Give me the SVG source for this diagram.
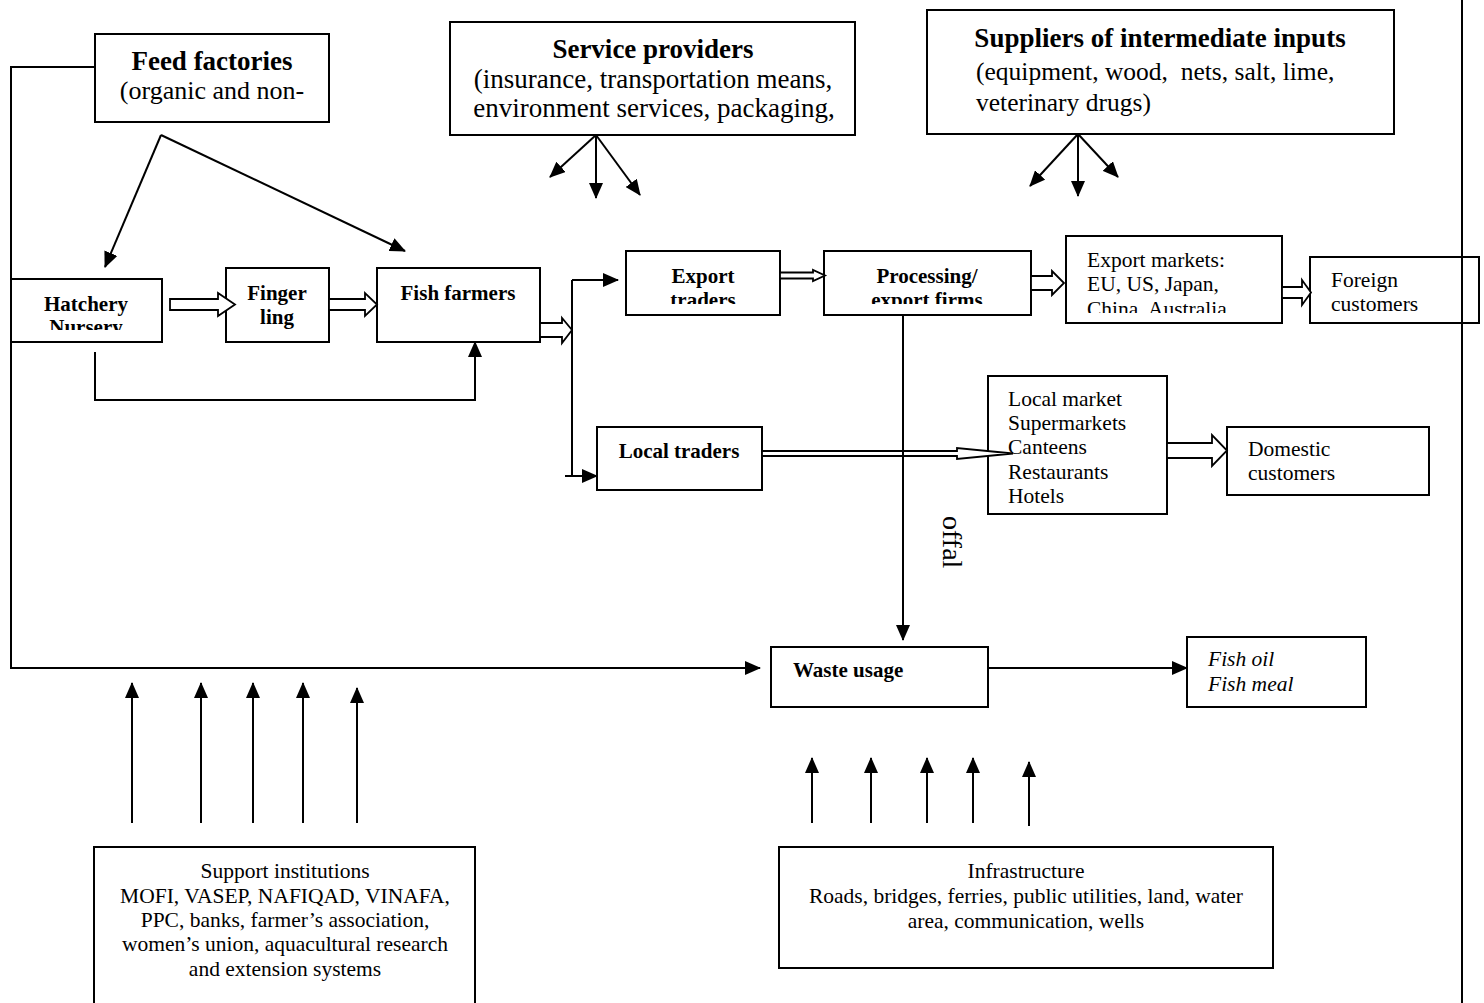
<svg xmlns="http://www.w3.org/2000/svg" width="1484" height="1003" viewBox="0 0 1484 1003">
<style>
.box{fill:#fff;stroke:#000;stroke-width:2}
.ln{fill:none;stroke:#000;stroke-width:2}
.hol{fill:#fff;stroke:#000;stroke-width:1.8;stroke-linejoin:miter}
text{font-family:"Liberation Serif","Times New Roman",serif;fill:#000}
.s21{font-size:21.5px}
.sb{font-size:21px}
.s26{font-size:27px}
.s25{font-size:25.5px}
.b{font-weight:bold}
.i{font-style:italic}
.m{text-anchor:middle}
</style>
<defs>
<marker id="ah" markerUnits="userSpaceOnUse" markerWidth="16" markerHeight="14" refX="15" refY="7" orient="auto">
<path d="M0,0 L16,7 L0,14 Z" fill="#000"/>
</marker>
<clipPath id="cHat"><rect x="11" y="279" width="151" height="51"/></clipPath>
<clipPath id="cExp"><rect x="626" y="251" width="154" height="53"/></clipPath>
<clipPath id="cProc"><rect x="824" y="251" width="207" height="53"/></clipPath>
<clipPath id="cMkt"><rect x="1066" y="236" width="216" height="77"/></clipPath>
</defs>
<rect width="1484" height="1003" fill="#fff"/>

<g id="feed-factories">
<rect class="box" x="95" y="34" width="234" height="88"/>
<text class="s26 b m" x="212" y="70">Feed factories</text>
<text class="s26 m" x="212" y="99" style="font-size:26px">(organic and non-</text>
</g>
<g id="service-providers">
<rect class="box" x="450" y="22" width="405" height="113"/>
<text class="s26 b m" x="653" y="58">Service providers</text>
<text class="s26 m" x="653" y="88">(insurance, transportation means,</text>
<text class="s26 m" x="654" y="117">environment services, packaging,</text>
</g>
<g id="suppliers">
<rect class="box" x="927" y="10" width="467" height="124"/>
<text class="s26 b m" x="1160" y="47">Suppliers of intermediate inputs</text>
<text class="s25" x="976" y="80" xml:space="preserve">(equipment, wood,  nets, salt, lime,</text>
<text class="s25" x="976" y="111">veterinary drugs)</text>
</g>
<g id="hatchery">
<rect class="box" x="11" y="279" width="151" height="63"/>
<g clip-path="url(#cHat)">
<text class="sb b m" x="86" y="311">Hatchery</text>
<text class="sb b m" x="86" y="334">Nursery</text>
</g>
</g>
<g id="fingerling">
<rect class="box" x="226" y="268" width="103" height="74"/>
<text class="sb b m" x="277" y="300">Finger</text>
<text class="sb b m" x="277" y="324">ling</text>
</g>
<g id="fish-farmers">
<rect class="box" x="377" y="268" width="163" height="74"/>
<text class="sb b m" x="458" y="300">Fish farmers</text>
</g>
<g id="export-traders">
<rect class="box" x="626" y="251" width="154" height="64"/>
<g clip-path="url(#cExp)">
<text class="sb b m" x="703" y="283">Export</text>
<text class="sb b m" x="703" y="307">traders</text>
</g>
</g>
<g id="processing">
<rect class="box" x="824" y="251" width="207" height="64"/>
<g clip-path="url(#cProc)">
<text class="sb b m" x="927" y="283">Processing/</text>
<text class="sb b m" x="927" y="307">export firms</text>
</g>
</g>
<g id="export-markets">
<rect class="box" x="1066" y="236" width="216" height="87"/>
<g clip-path="url(#cMkt)">
<text class="s21" x="1087" y="267">Export markets:</text>
<text class="s21" x="1087" y="291">EU, US, Japan,</text>
<text class="s21" x="1087" y="316">China, Australia</text>
</g>
</g>
<g id="foreign-customers">
<rect class="box" x="1310" y="257" width="169" height="66"/>
<text class="s21" x="1331" y="287">Foreign</text>
<text class="s21" x="1331" y="311">customers</text>
</g>
<g id="local-traders">
<rect class="box" x="597" y="427" width="165" height="63"/>
<text class="sb b m" x="679" y="458">Local traders</text>
</g>
<g id="local-market">
<rect class="box" x="988" y="376" width="179" height="138"/>
<text class="s21" x="1008" y="406">Local market</text>
<text class="s21" x="1008" y="430">Supermarkets</text>
<text class="s21" x="1008" y="454">Canteens</text>
<text class="s21" x="1008" y="479">Restaurants</text>
<text class="s21" x="1008" y="503">Hotels</text>
</g>
<g id="domestic-customers">
<rect class="box" x="1227" y="427" width="202" height="68"/>
<text class="s21" x="1248" y="456">Domestic</text>
<text class="s21" x="1248" y="480">customers</text>
</g>
<g id="waste-usage">
<rect class="box" x="771" y="647" width="217" height="60"/>
<text class="sb b" x="793" y="677">Waste usage</text>
</g>
<g id="fish-oil-meal">
<rect class="box" x="1187" y="637" width="179" height="70"/>
<text class="s21 i" x="1208" y="666">Fish oil</text>
<text class="s21 i" x="1208" y="691">Fish meal</text>
</g>
<g id="support-institutions">
<rect class="box" x="94" y="847" width="381" height="170"/>
<text class="s21 m" x="285" y="878">Support institutions</text>
<text class="s21 m" x="285" y="903">MOFI, VASEP, NAFIQAD, VINAFA,</text>
<text class="s21 m" x="285" y="927">PPC, banks, farmer’s association,</text>
<text class="s21 m" x="285" y="951">women’s union, aquacultural research</text>
<text class="s21 m" x="285" y="976">and extension systems</text>
</g>
<g id="infrastructure">
<rect class="box" x="779" y="847" width="494" height="121"/>
<text class="s21 m" x="1026" y="878">Infrastructure</text>
<text class="s21 m" x="1026" y="903">Roads, bridges, ferries, public utilities, land, water</text>
<text class="s21 m" x="1026" y="928">area, communication, wells</text>
</g>

<g id="connectors">
<path class="ln" d="M95,67 L11,67 L11,668 L760,668" marker-end="url(#ah)"/>
<path class="ln" d="M161,135 L105,267" marker-end="url(#ah)"/>
<path class="ln" d="M161,135 L405,251" marker-end="url(#ah)"/>
<path class="ln" d="M596,135 L550,177" marker-end="url(#ah)"/>
<path class="ln" d="M596,135 L596,198" marker-end="url(#ah)"/>
<path class="ln" d="M596,135 L640,195" marker-end="url(#ah)"/>
<path class="ln" d="M1078,134 L1030,186" marker-end="url(#ah)"/>
<path class="ln" d="M1078,134 L1078,196" marker-end="url(#ah)"/>
<path class="ln" d="M1078,134 L1118,177" marker-end="url(#ah)"/>
<path class="hol" d="M170,299 L218,299 L218,293 L235,304.5 L218,316 L218,310 L170,310 Z"/>
<path class="hol" d="M329,299 L365,299 L365,293 L377,304.5 L365,316 L365,310 L329,310 Z"/>
<path class="hol" d="M540,323 L562,323 L562,318 L572,330 L562,343 L562,337 L540,337 Z"/>
<path class="ln" d="M572,280 L572,476"/>
<path class="ln" d="M572,280 L618,280" marker-end="url(#ah)"/>
<path class="ln" d="M565,476 L597,476" marker-end="url(#ah)"/>
<path class="ln" d="M95,352 L95,400 L475,400 L475,342" marker-end="url(#ah)"/>
<path class="hol" d="M780,272.5 L813,272.5 L813,270 L825,275.5 L813,281 L813,278.5 L780,278.5 Z"/>
<path class="hol" d="M1031,276 L1052,276 L1052,271 L1064,283 L1052,295 L1052,290 L1031,290 Z"/>
<path class="hol" d="M1282,287 L1302,287 L1302,280 L1311,292.5 L1302,305 L1302,298 L1282,298 Z"/>
<path class="hol" d="M762,451 L957,451 L957,448 L1013,453.5 L957,459 L957,456 L762,456 Z"/>
<path class="hol" d="M1167,443 L1212,443 L1212,435 L1227,450.5 L1212,466 L1212,458 L1167,458 Z"/>
<path class="ln" d="M903,315 L903,640" marker-end="url(#ah)"/>
<text transform="translate(943,516) rotate(90)" style="font-size:28px">offal</text>
<path class="ln" d="M988,668 L1187,668" marker-end="url(#ah)"/>
<path class="ln" d="M1462,0 L1462,1003"/>
<path class="ln" d="M132,823 L132,683" marker-end="url(#ah)"/>
<path class="ln" d="M201,823 L201,683" marker-end="url(#ah)"/>
<path class="ln" d="M253,823 L253,683" marker-end="url(#ah)"/>
<path class="ln" d="M303,823 L303,683" marker-end="url(#ah)"/>
<path class="ln" d="M357,823 L357,688" marker-end="url(#ah)"/>
<path class="ln" d="M812,823 L812,758" marker-end="url(#ah)"/>
<path class="ln" d="M871,823 L871,758" marker-end="url(#ah)"/>
<path class="ln" d="M927,823 L927,758" marker-end="url(#ah)"/>
<path class="ln" d="M973,823 L973,758" marker-end="url(#ah)"/>
<path class="ln" d="M1029,826 L1029,762" marker-end="url(#ah)"/>
</g>
</svg>
